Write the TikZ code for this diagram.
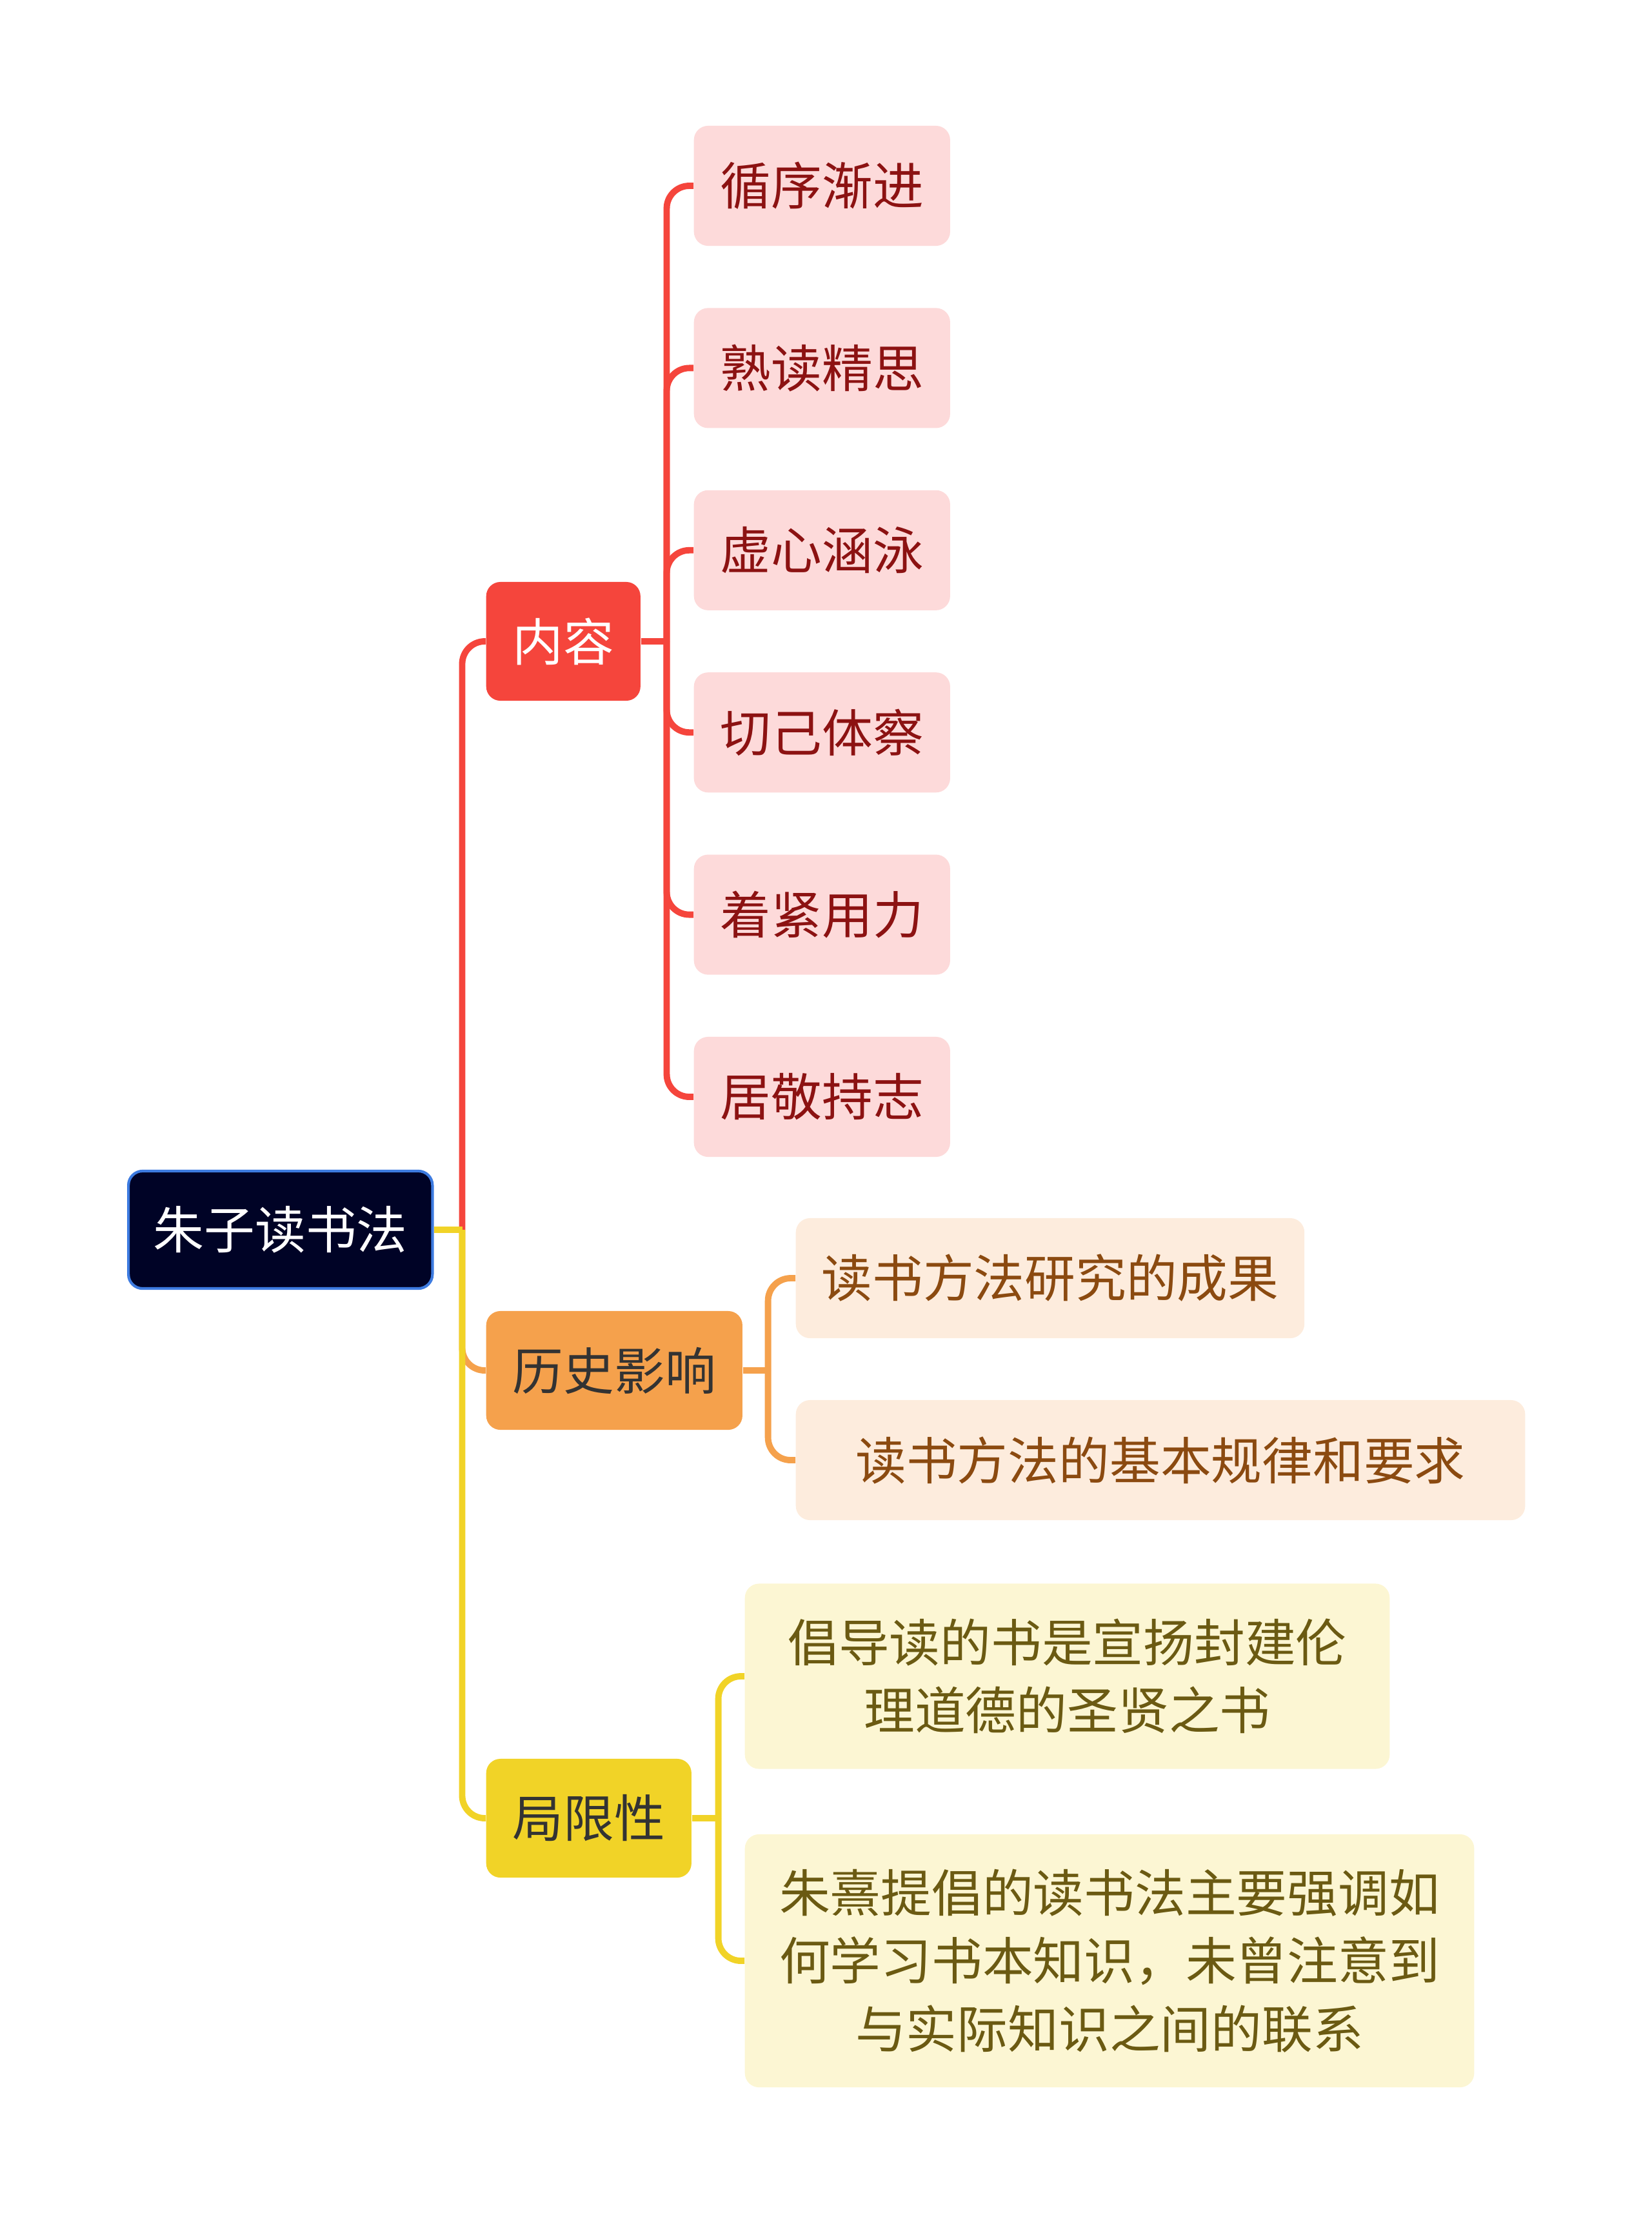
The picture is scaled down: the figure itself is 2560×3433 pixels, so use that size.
\documentclass[tikz,border=0pt]{standalone}
\usepackage{fontspec}
\setmainfont{Noto Sans CJK SC}
\definecolor{rootbg}{HTML}{000326}
\definecolor{rootbd}{HTML}{3D7BE0}
\definecolor{cred}{HTML}{F5453C}
\definecolor{corange}{HTML}{F5A14C}
\definecolor{cyellow}{HTML}{F1D327}
\definecolor{darktxt}{HTML}{333333}
\definecolor{pinkbg}{HTML}{FDDADA}
\definecolor{pinktxt}{HTML}{8C1212}
\definecolor{orbg}{HTML}{FDECDD}
\definecolor{ortxt}{HTML}{8B4A10}
\definecolor{yebg}{HTML}{FCF6D3}
\definecolor{yetxt}{HTML}{6B5A12}
\begin{document}
\begin{tikzpicture}[x=0.01cm, y=-0.01cm,
  every node/.style={font=\fontsize{22.4pt}{30pt}\selectfont, inner sep=0pt,
    rounded corners=0.22cm, anchor=west},
  rootbox/.style={fill=rootbg, draw=rootbd, line width=1.2pt, text=white,
    minimum width=4.71cm, minimum height=1.82cm},
  topic/.style={text=darktxt, minimum height=1.84cm},
  redsub/.style={fill=pinkbg, text=pinktxt, minimum width=3.97cm, minimum height=1.86cm},
  orsub/.style={fill=orbg, text=ortxt, minimum height=1.86cm},
  yesub/.style={fill=yebg, text=yetxt, align=center},
  redline/.style={draw=cred, line width=2.8pt, rounded corners=0.35cm},
  orline/.style={draw=corange, line width=2.8pt, rounded corners=0.35cm},
  yeline/.style={draw=cyellow, line width=2.8pt, rounded corners=0.35cm}]
  \useasboundingbox (0,0) rectangle (2560,3433);

  % root
  \node[rootbox] (root) at (197,1906) {朱子读书法};

  % main branches
  \node[topic, fill=cred, text=white, minimum width=2.39cm] (nr) at (753,994) {内容};
  \node[topic, fill=corange, minimum width=3.97cm] (ls) at (753,2124) {历史影响};
  \node[topic, fill=cyellow, minimum width=3.18cm] (jx) at (753,2818) {局限性};

  % content items
  \foreach \t [count=\i] in {循序渐进,熟读精思,虚心涵泳,切己体察,着紧用力,居敬持志} {
    \node[redsub] (nr\i) at (1075,{5.6+282.4*\i}) {\t};
  }

  % influence items
  \node[orsub, minimum width=7.88cm] (ls1) at (1233,1981) {读书方法研究的成果};
  \node[orsub, minimum width=11.30cm] (ls2) at (1233,2263) {读书方法的基本规律和要求};

  % limitation items
  \node[yesub, minimum width=9.99cm, minimum height=2.87cm] (jx1) at (1154,2598)
    {倡导读的书是宣扬封建伦\\理道德的圣贤之书};
  \node[yesub, minimum width=11.30cm, minimum height=3.92cm] (jx2) at (1154,3039)
    {朱熹提倡的读书法主要强调如\\何学习书本知识，未曾注意到\\与实际知识之间的联系};

  % connectors from root
  \path (root.east) ++(44,0) coordinate (rj);
  \draw[redline] (rj) |- (nr.west);
  \draw[orline] (rj) |- (ls.west);
  \draw[yeline] (rj) |- (jx.west);
  \draw[yeline] (root.east) -- (rj);

  % connectors to items
  \path (nr.east) ++(40,0) coordinate (nrj);
  \draw[redline] (nr.east) -- (nrj);
  \foreach \i in {1,...,6} {
    \draw[redline] (nrj) |- (nr\i.west);
  }
  \path (ls.east) ++(39,0) coordinate (lsj);
  \draw[orline] (ls.east) -- (lsj);
  \draw[orline] (lsj) |- (ls1.west);
  \draw[orline] (lsj) |- (ls2.west);
  \path (jx.east) ++(41,0) coordinate (jxj);
  \draw[yeline] (jx.east) -- (jxj);
  \draw[yeline] (jxj) |- (jx1.west);
  \draw[yeline] (jxj) |- (jx2.west);
\end{tikzpicture}
\end{document}
